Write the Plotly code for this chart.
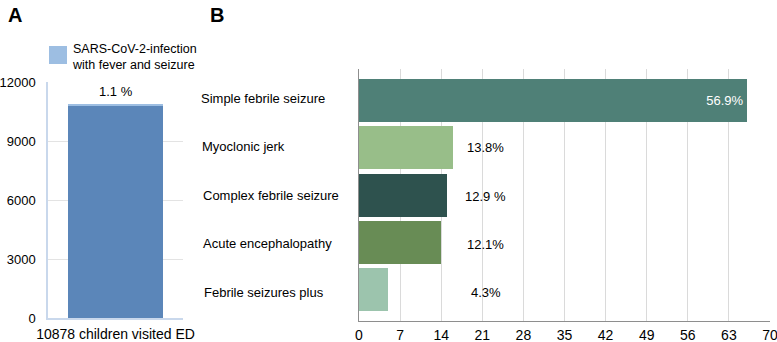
import plotly.graph_objects as go

# Panel A data
a_category = ["10878 children visited ED"]
a_total = 10878
a_infected = [120]          # SARS-CoV-2 infection with fever and seizure (1.1 %)
a_rest = [a_total - a_infected[0]]
a_label = ["1.1 %"]
a_legend = "SARS-CoV-2-infection<br>with fever and seizure"

# Panel B data
b_categories = ["Simple febrile seizure", "Myoclonic jerk", "Complex febrile seizure",
                "Acute encephalopathy", "Febrile seizures plus"]
b_counts = [66, 16, 15, 14, 5]
b_labels = ["56.9%", "13.8%", "12.9 %", "12.1%", "4.3%"]
b_colors = ["#4F8077", "#98BE89", "#2E524E", "#688C55", "#9CC4AD"]
b_ticks = [0, 7, 14, 21, 28, 35, 42, 49, 56, 63, 70]

FONT = "Liberation Sans, Arial, Helvetica, sans-serif"
W, H = 777, 342

fig = go.Figure()

# Panel A stacked bar
fig.add_trace(go.Bar(x=a_category, y=a_rest, marker_color="#5B86B9", width=0.71,
                     xaxis="x", yaxis="y", showlegend=False, hoverinfo="skip",
                     marker_line_width=0))
fig.add_trace(go.Bar(x=a_category, y=a_infected, marker_color="#9DBEE2", width=0.71,
                     xaxis="x", yaxis="y", showlegend=False, hoverinfo="skip",
                     marker_line_width=0))

# Panel B horizontal bars
fig.add_trace(go.Bar(y=b_categories, x=b_counts, orientation="h",
                     marker_color=b_colors, marker_line_width=0,
                     xaxis="x2", yaxis="y2", showlegend=False, hoverinfo="skip",
                     text=[b_labels[0]] + [""] * (len(b_labels) - 1),
                     textposition=["inside"] + ["none"] * (len(b_labels) - 1),
                     insidetextanchor="end",
                     textfont=dict(color="white", size=13, family=FONT)))

annotations = []
# panel letters
annotations.append(dict(text="<b>A</b>", x=6 / W, y=1 - 2 / H, xref="paper", yref="paper",
                        xanchor="left", yanchor="top", showarrow=False,
                        font=dict(size=20, family=FONT, color="black")))
annotations.append(dict(text="<b>B</b>", x=208 / W, y=1 - 2 / H, xref="paper", yref="paper",
                        xanchor="left", yanchor="top", showarrow=False,
                        font=dict(size=20, family=FONT, color="black")))
# legend text for panel A
annotations.append(dict(text=a_legend, x=70 / W, y=1 - 57 / H, xref="paper", yref="paper",
                        xanchor="left", yanchor="middle", align="left", showarrow=False,
                        font=dict(size=12.5, family=FONT, color="black")))
# 1.1 % label
annotations.append(dict(text=a_label[0], x=a_category[0], y=a_total, xref="x", yref="y",
                        xanchor="center", yanchor="bottom", yshift=3, showarrow=False,
                        font=dict(size=13, family=FONT, color="black")))
# panel B category labels and outside value labels
for i, (cat, lab) in enumerate(zip(b_categories, b_labels)):
    annotations.append(dict(text=cat, x=199 / W, y=cat, xref="paper", yref="y2",
                            xanchor="left", yanchor="middle", showarrow=False,
                            xshift=i * 0.8, yshift=2 - i * 1.2,
                            font=dict(size=13, family=FONT, color="black")))
    if i > 0:
        annotations.append(dict(text=lab, x=21.6, y=cat, xref="x2", yref="y2",
                                xanchor="center", yanchor="middle", showarrow=False,
                                yshift=1 - i * 1.0,
                                font=dict(size=13, family=FONT, color="black")))

shapes = [dict(type="rect", xref="paper", yref="paper",
               x0=49 / W, x1=67 / W, y0=1 - 64 / H, y1=1 - 46 / H,
               fillcolor="#9DBEE2", line_width=0)]

fig.update_layout(
    width=W, height=H, margin=dict(l=0, r=0, t=0, b=0, autoexpand=False),
    paper_bgcolor="white", plot_bgcolor="white",
    barmode="stack", bargap=0.09,
    font=dict(family=FONT, size=13, color="black"),
    annotations=annotations, shapes=shapes,
    xaxis=dict(domain=[48 / W, 183 / W], anchor="y", type="category", automargin=False,
               range=[-0.5, 0.5], showgrid=False, showline=True,
               linecolor="#C9D8EC", linewidth=1.5, ticks="",
               ticklabelstandoff=2, ticklabeloverflow="allow",
               tickfont=dict(size=14, family=FONT, color="black")),
    yaxis=dict(domain=[1 - 318 / H, 1 - 82 / H], anchor="x", range=[0, 12000], automargin=False,
               tickvals=[0, 3000, 6000, 9000, 12000], tickformat="d", showgrid=True,
               gridcolor="#E3E3E3", gridwidth=1, showline=True,
               linecolor="#C9D8EC", linewidth=1.5, zeroline=False,
               ticklabelstandoff=8, ticklabeloverflow="allow",
               tickfont=dict(size=13, family=FONT, color="black")),
    xaxis2=dict(domain=[359 / W, 770 / W], anchor="y2", range=[0, 70], automargin=False,
                tickvals=b_ticks, showgrid=True,
                gridcolor="#DADADA", gridwidth=1, showline=True,
                linecolor="#8E8E8E", linewidth=1.2, zeroline=False,
                ticklabelstandoff=1, ticklabeloverflow="allow",
                tickfont=dict(size=14, family=FONT, color="black")),
    yaxis2=dict(domain=[1 - 321 / H, 1 - 69 / H], anchor="x2", automargin=False,
                categoryorder="array", categoryarray=b_categories,
                range=[4.667, -0.667], showticklabels=False, ticks="",
                showgrid=False, showline=True, linecolor="#8E8E8E",
                linewidth=1.2, zeroline=False),
)

fig.write_html("out.html", config={"displayModeBar": False},
               post_script="document.body.style.margin='0';"
                           "document.body.style.overflow='hidden';")
